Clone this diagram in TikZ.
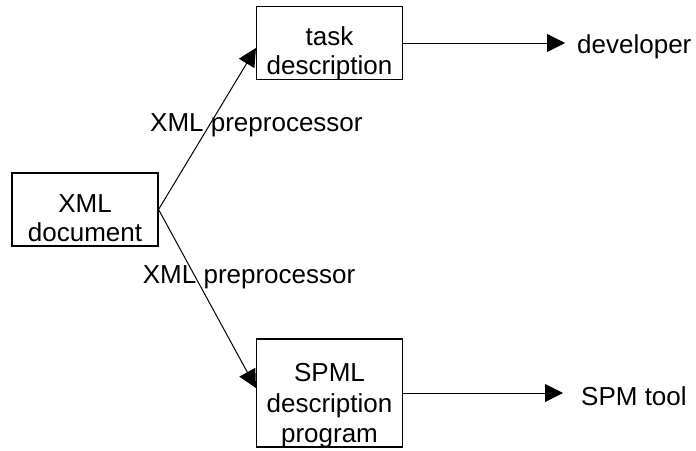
\documentclass[tikz,border=0pt]{standalone}
\usepackage{fontspec}
\setmainfont{Liberation Sans}
\usetikzlibrary{arrows.meta}
\begin{document}
\begin{tikzpicture}[x=1pt,y=-1pt,font=\fontsize{26}{29.5}\selectfont,
  box/.style={draw,line width=1.1pt,minimum width=146pt,minimum height=73pt,inner sep=0pt},
  boxtext/.style={anchor=north,align=center,inner sep=0pt},
  sink/.style={anchor=base west,inner ysep=0pt},
  flow/.style={line width=1pt,-{Triangle[length=18pt,width=18pt]}}]
  \useasboundingbox (0,0) rectangle (696,450);
  % the three boxes, their text set apart so it may run over the border
  \node [box] (xml) at (85,209.5) {};
  \node [boxtext] (xmlname) at (85,194.4) {XML\\document};
  \node [box] (task) at (329.5,43) {};
  \node [boxtext] (taskname) at (329.5,26) {task\\description};
  \node [box,minimum height=108pt] (spml) at (329.5,393) {};
  \node [boxtext,font=\fontsize{26}{30.8}\selectfont] (spmlname) at (329.5,363)
    {SPML\\description\\program};
  \node [anchor=base west,inner sep=0pt] (upperlabel) at (150,131.7) {XML preprocessor};
  \node [anchor=base west,inner sep=0pt] (lowerlabel) at (142.7,283.3) {XML preprocessor};
  \node [sink,inner xsep=12pt] (dev) at (565,53) {developer};
  \node [sink,inner xsep=18pt] (tool) at (563,405) {SPM tool};
  \draw [flow] (xml.east) -- ([yshift=-5pt]task.west);
  \draw [flow] (xml.east) -- ([yshift=5pt]spml.west);
  \draw [flow] (task.east) -- (task.east -| dev.west);
  \draw [flow] (spml.east) -- (spml.east -| tool.west);
\end{tikzpicture}
\end{document}
